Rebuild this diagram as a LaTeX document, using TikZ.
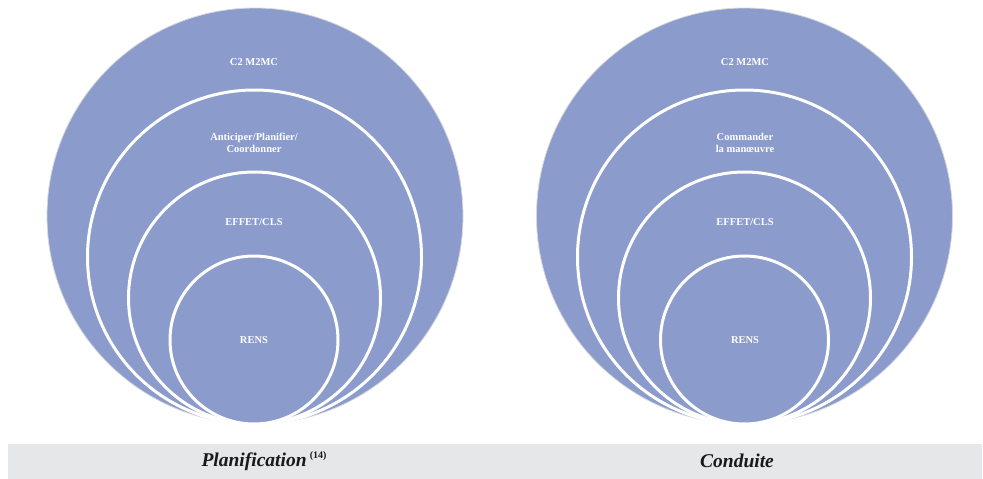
\documentclass[tikz,border=0pt]{standalone}
\usepackage{fontspec}
\setmainfont{Liberation Serif}
\definecolor{fillc}{RGB}{138,155,204}
\definecolor{barc}{RGB}{230,231,232}
\definecolor{rimc}{RGB}{215,215,218}
\begin{document}
\begin{tikzpicture}[x=1pt,y=-1pt,
 ring/.style={circle, fill=fillc, draw=white, line width=3pt, inner sep=0pt},
 outerring/.style={circle, fill=fillc, draw=rimc, line width=0.8pt, inner sep=0pt},
 lab/.style={text=white, font=\bfseries\fontsize{10.5}{11.5}\selectfont, align=center},
 captext/.style={font=\bfseries\itshape\fontsize{19.5}{21}\selectfont, text=black!90}]
\useasboundingbox (0,0) rectangle (983,479);
\node[fill=barc, minimum width=974pt, minimum height=35pt, inner sep=0pt, anchor=north west] (bar) at (8,444) {};
% left set
\node[outerring, minimum size=416pt] (L1) at (255,216) {};
\node[ring, minimum size=334pt] (L2) at (254.5,257) {};
\node[ring, minimum size=252pt] (L3) at (254.5,298) {};
\node[ring, minimum size=168pt] (L4) at (254,340) {};
\node[lab] (l1) at (254,62) {C2 M2MC};
\node[lab] (l2) at (254,143) {Anticiper/Planifier/\\Coordonner};
\node[lab] (l3) at (254,222) {EFFET/CLS};
\node[lab] (l4) at (254,340) {RENS};
% right set
\node[outerring, minimum size=416pt] (R1) at (744.5,216) {};
\node[ring, minimum size=334pt] (R2) at (744.5,257) {};
\node[ring, minimum size=252pt] (R3) at (744.5,298) {};
\node[ring, minimum size=168pt] (R4) at (744.5,340) {};
\node[lab] (r1) at (745,62) {C2 M2MC};
\node[lab] (r2) at (745,143) {Commander\\la manœuvre};
\node[lab] (r3) at (745,222) {EFFET/CLS};
\node[lab] (r4) at (745,340) {RENS};
% captions
\node[captext] (c1) at (264,461) {Planification\,\raisebox{0.4em}{\upshape\bfseries\fontsize{10}{11}\selectfont (14)}};
\node[captext] (c2) at (737,461) {Conduite};
\end{tikzpicture}
\end{document}
